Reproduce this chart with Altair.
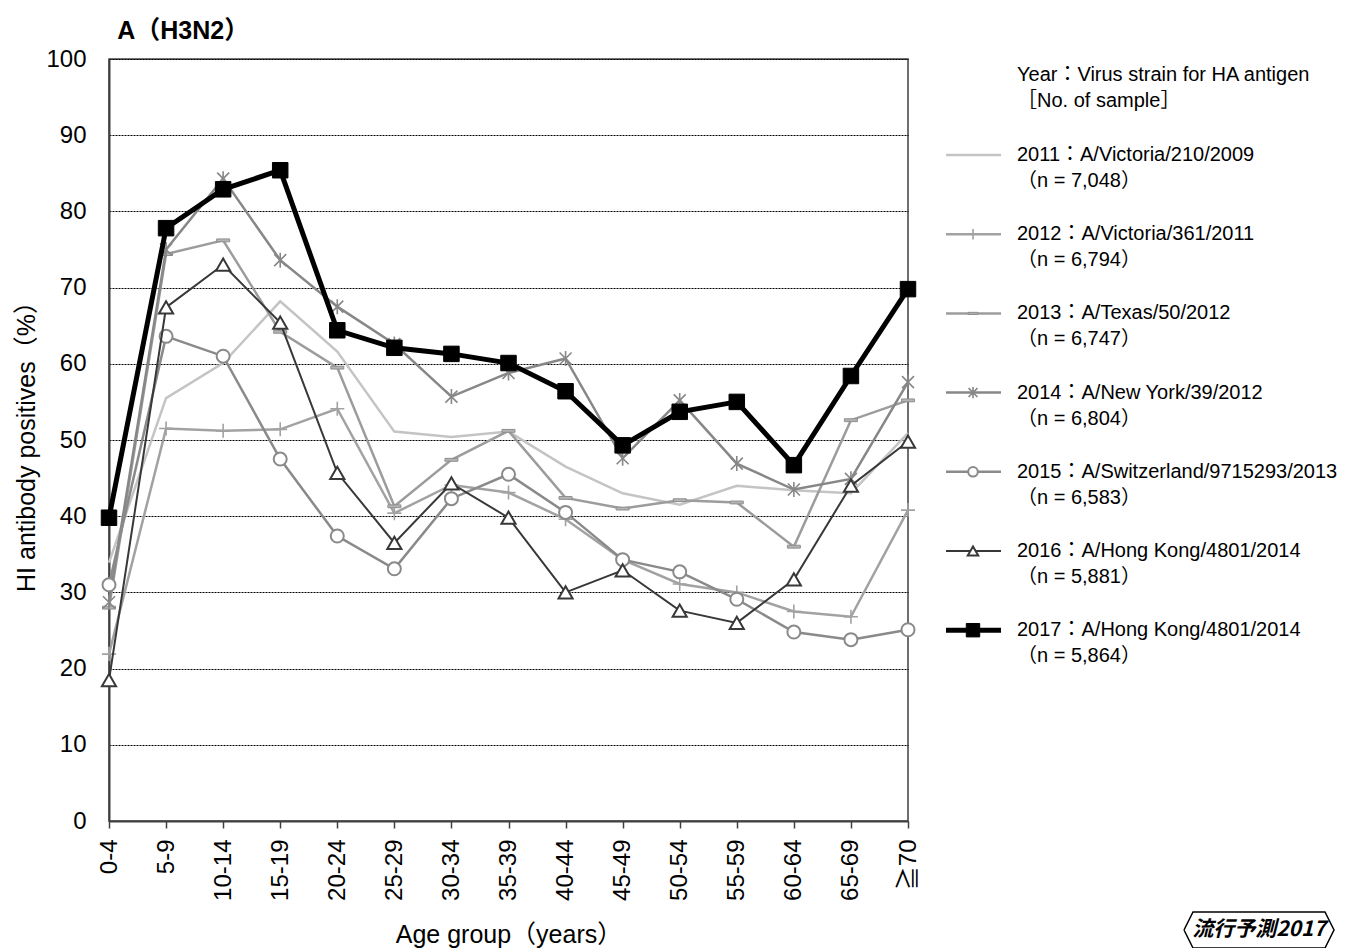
import altair as alt
import pandas as pd

FONT = "Liberation Sans, Arial, Noto Sans CJK JP, sans-serif"

ages = ["0-4", "5-9", "10-14", "15-19", "20-24", "25-29", "30-34", "35-39",
        "40-44", "45-49", "50-54", "55-59", "60-64", "65-69", "≧70"]

years = ["2011", "2012", "2013", "2014", "2015", "2016", "2017"]
strains = ["A/Victoria/210/2009", "A/Victoria/361/2011", "A/Texas/50/2012",
           "A/New York/39/2012", "A/Switzerland/9715293/2013",
           "A/Hong Kong/4801/2014", "A/Hong Kong/4801/2014"]
samples = ["7,048", "6,794", "6,747", "6,804", "6,583", "5,881", "5,864"]

v2011 = [33.9, 55.5, 60.1, 68.2, 61.6, 51.1, 50.4, 51.1, 46.5, 43.0, 41.5, 44.0, 43.4, 43.0, 50.9]
v2012 = [21.9, 51.5, 51.2, 51.4, 54.1, 40.4, 44.1, 43.1, 39.6, 34.3, 31.1, 30.0, 27.5, 26.8, 40.8]
v2013 = [28.0, 74.4, 76.2, 64.2, 59.5, 41.3, 47.4, 51.2, 42.4, 41.0, 42.1, 41.8, 36.0, 52.6, 55.2]
v2014 = [28.7, 75.0, 84.3, 73.6, 67.5, 62.6, 55.7, 58.8, 60.7, 47.6, 55.2, 46.9, 43.5, 44.9, 57.6]
v2015 = [31.0, 63.6, 61.0, 47.5, 37.4, 33.1, 42.3, 45.5, 40.5, 34.3, 32.7, 29.1, 24.8, 23.8, 25.1]
v2016 = [18.5, 67.4, 73.0, 65.4, 45.7, 36.5, 44.3, 39.8, 30.0, 32.9, 27.6, 26.0, 31.7, 44.0, 49.8]
v2017 = [39.8, 77.8, 82.9, 85.4, 64.4, 62.1, 61.3, 60.1, 56.4, 49.3, 53.7, 55.0, 46.7, 58.4, 69.8]
values = [v2011, v2012, v2013, v2014, v2015, v2016, v2017]

header = ["Year：Virus strain for HA antigen", "［No. of sample］"]
logo_text = "流行予測2017"

records = []
for yr, vals in zip(years, values):
    for i, (a, v) in enumerate(zip(ages, vals)):
        records.append({"year": yr, "age": a, "idx": i, "value": v})
df = pd.DataFrame(records)

PLUS = "M-1,0H1M0,-1V1"
ASTER = "M0,-1V1M-0.8,-0.8L0.8,0.8M-0.8,0.8L0.8,-0.8"
DASH = "M-1,-0.22H1V0.22H-1Z"

styles = {
    "2011": dict(color="#c4c4c4", width=2.5, point=None),
    "2012": dict(color="#a2a2a2", width=2.5,
                 point=dict(shape=PLUS, filled=False, stroke="#a2a2a2", strokeWidth=1.6, size=196)),
    "2013": dict(color="#9c9c9c", width=2.5,
                 point=dict(shape=DASH, filled=True, fill="#b4b4b4", stroke="#8e8e8e", strokeWidth=1, size=169)),
    "2014": dict(color="#878787", width=2.5,
                 point=dict(shape=ASTER, filled=False, stroke="#878787", strokeWidth=1.6, size=225)),
    "2015": dict(color="#8a8a8a", width=2.5,
                 point=dict(shape="circle", filled=True, fill="white", stroke="#8a8a8a", strokeWidth=2, size=169)),
    "2016": dict(color="#383838", width=2,
                 point=dict(shape="triangle-up", filled=True, fill="white", stroke="#383838", strokeWidth=2, size=200)),
    "2017": dict(color="black", width=5,
                 point=dict(shape="square", filled=True, fill="black", stroke="black", strokeWidth=1, size=240)),
}

x_enc = alt.X(
    "age:N", sort=ages, scale=alt.Scale(type="point", padding=0),
    axis=alt.Axis(title="Age group（years）", labelAngle=270, labelFontSize=24, labelPadding=11,
                  tickSize=7, tickWidth=1.5, tickColor="#404040", domainColor="#404040",
                  domainWidth=2, titleFontSize=25, titleFontWeight="normal", titlePadding=22,
                  labelColor="black", titleColor="black", grid=False),
)
y_enc = alt.Y(
    "value:Q", scale=alt.Scale(domain=[0, 100], nice=False),
    axis=alt.Axis(title="HI antibody positives（%）", values=list(range(0, 101, 10)), ticks=False,
                  tickSize=0, labelPadding=23, labelFontSize=24, grid=True, gridColor="black",
                  gridDash=[2, 1], gridWidth=1, domainColor="#404040", domainWidth=2,
                  titleFontSize=25, titleFontWeight="normal", titlePadding=6,
                  labelColor="black", titleColor="black"),
)

layers = []
for yr in years:
    st = styles[yr]
    src = alt.Chart(df).transform_filter(alt.datum.year == yr)
    layers.append(src.mark_line(color=st["color"], strokeWidth=st["width"]).encode(
        x=x_enc, y=y_enc, order=alt.Order("idx:Q")))
    if st["point"]:
        layers.append(src.mark_point(opacity=1, **st["point"]).encode(x=x_enc, y=y_enc))

main = alt.layer(*layers).properties(
    width=799, height=762,
    view=alt.ViewBackground(stroke="#404040", strokeWidth=1.5),
)

# ---------- custom legend panel ----------
LW, LH = 400, 890
lx = lambda f: alt.X(f"{f}:Q", scale=alt.Scale(domain=[0, LW], nice=False, zero=False), axis=None)
ly = lambda f: alt.Y(f"{f}:Q", scale=alt.Scale(domain=[0, LH], nice=False, zero=False, reverse=True), axis=None)

TEXT_X, SYM_X1, SYM_X2, SYM_MID = 88, 17, 72, 44
first_y, step, line_gap = 96, 79.2, 26

txt_rows = [{"x": TEXT_X, "y": 16, "t": header[0]}, {"x": TEXT_X, "y": 42, "t": header[1]}]
for i, (yr, s, n) in enumerate(zip(years, strains, samples)):
    yy = first_y + step * i
    txt_rows.append({"x": TEXT_X, "y": yy, "t": f"{yr}：{s}"})
    txt_rows.append({"x": TEXT_X, "y": yy + line_gap, "t": f"（n = {n}）"})
txt_df = pd.DataFrame(txt_rows)

leg_layers = [alt.Chart(txt_df).mark_text(align="left", baseline="middle", fontSize=20, color="black").encode(
    x=lx("x"), y=ly("y"), text="t:N")]

for i, yr in enumerate(years):
    st = styles[yr]
    yy = first_y + step * i
    seg = pd.DataFrame({"x": [SYM_X1], "x2": [SYM_X2], "y": [yy], "xm": [SYM_MID]})
    leg_layers.append(alt.Chart(seg).mark_rule(color=st["color"], strokeWidth=st["width"]).encode(
        x=lx("x"), x2="x2:Q", y=ly("y")))
    if st["point"]:
        p = dict(st["point"])
        p["size"] = p["size"] * 0.55 if yr != "2017" else p["size"] * 0.75
        leg_layers.append(alt.Chart(seg).mark_point(opacity=1, **p).encode(x=lx("xm"), y=ly("y")))

# logo frame and text
frame = pd.DataFrame({
    "x": [255, 264, 396, 405, 396, 264, 255],
    "y": [871, 853, 853, 871, 889, 889, 871],
    "o": list(range(7)),
})
leg_layers.append(alt.Chart(frame).mark_line(color="black", strokeWidth=1.5).encode(
    x=lx("x"), y=ly("y"), order="o:Q"))
logo_df = pd.DataFrame({"x": [330], "y": [871], "t": [logo_text]})
leg_layers.append(alt.Chart(logo_df).mark_text(
    fontSize=21, fontWeight="bold", fontStyle="italic", font="Noto Sans CJK JP",
    align="center", baseline="middle", color="black").encode(x=lx("x"), y=ly("y"), text="t:N"))

legend = alt.layer(*leg_layers).properties(
    width=LW, height=LH, view=alt.ViewBackground(strokeOpacity=0))

chart = alt.hconcat(main, legend, spacing=8).properties(
    title=alt.TitleParams("A（H3N2）", anchor="start", fontSize=25, fontWeight="bold",
                          dx=103, offset=2, color="black"),
    padding={"top": 11, "left": 6, "right": 5, "bottom": 5},
).configure(font=FONT).configure_view(strokeOpacity=1)

chart.save("out.html", embed_options={"renderer": "svg", "actions": False})
